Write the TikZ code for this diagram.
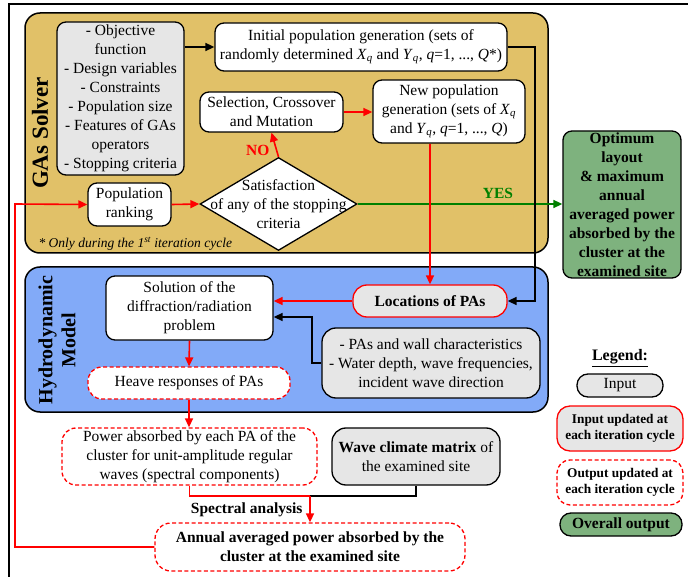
\documentclass[tikz,border=0pt]{standalone}
\usepackage{fontspec}
\setmainfont{Liberation Serif}
\usetikzlibrary{arrows.meta,shapes.geometric}
\definecolor{gold}{HTML}{E1C168}
\definecolor{hblue}{HTML}{82AAF8}
\definecolor{lgray}{HTML}{E6E6E6}
\definecolor{ogreen}{HTML}{7EB27E}
\definecolor{dgreen}{HTML}{008000}
\newcommand{\Xq}{\textit{X}\textsubscript{\textit{q}}}
\newcommand{\Yq}{\textit{Y}\textsubscript{\textit{q}}}
\tikzset{
  box/.style={draw, line width=1.3pt, rounded corners=9pt, align=center, inner sep=1pt, fill=white},
  inbox/.style={box, fill=lgray},
  redbox/.style={box, draw=red, fill=lgray},
  outbox/.style={box, draw=red, dash pattern=on 4pt off 2.5pt},
  ovbox/.style={box, fill=ogreen},
  conn/.style={line width=1.6pt, -{Triangle[length=9pt,width=8pt]}},
  rconn/.style={conn, draw=red, -{Triangle[length=9pt,width=8pt,fill=red]}},
  lbl/.style={font=\fontsize{15.5}{19}\selectfont\bfseries},
}
\begin{document}
\begin{tikzpicture}[x=1pt,y=-1pt, font=\fontsize{15.5}{19}\selectfont]
\useasboundingbox (0,0) rectangle (688,577);
% outer frame
\draw[line width=1.5pt] (688,4) -- (9,4) -- (9,577);
% panels
\draw[line width=1.5pt, fill=gold, rounded corners=15pt] (25,13) rectangle (548,253);
\draw[line width=1.5pt, fill=hblue, rounded corners=15pt] (25,267) rectangle (548,412);
\node[rotate=90, font=\fontsize{23}{26}\selectfont\bfseries] (gaslbl) at (40,133) {GAs Solver};
\node[rotate=90, align=center, font=\fontsize{20}{23}\selectfont\bfseries] (hydlbl) at (57,340) {Hydrodynamic\\Model};
\node[anchor=west, font=\fontsize{13.5}{16}\selectfont\itshape] (foot) at (35,244) {* Only during the 1\textsuperscript{st} iteration cycle};

% GA nodes
\node[inbox, minimum width=127pt, minimum height=153pt] (ginp) at (120.5,98.5)
  {- Objective\\function\\- Design variables\\- Constraints\\- Population size\\- Features of GAs\\operators\\- Stopping criteria};
\node[box, minimum width=292pt, minimum height=48pt] (init) at (361,47)
  {Initial population generation (sets of\\randomly determined \Xq{} and \Yq, \textit{q}=1, ..., \textit{Q}*)};
\node[box, minimum width=143pt, minimum height=40pt] (sel) at (271.5,112)
  {Selection, Crossover\\and Mutation};
\node[box, minimum width=152pt, minimum height=63pt] (newp) at (449,111.5)
  {New population\\generation (sets of \Xq\\and \Yq, \textit{q}=1, ..., \textit{Q})};
\node[diamond, draw, fill=white, line width=1.3pt, inner sep=0pt, minimum width=157pt, minimum height=93pt] (dia) at (278.5,204) {};
\node[align=center] (diatxt) at (dia) {Satisfaction\\of any of the stopping\\criteria};
\node[box, minimum width=83pt, minimum height=43pt] (rank) at (129.5,204.5) {Population\\ranking};
\node[ovbox, font=\fontsize{15.5}{19}\selectfont\bfseries, minimum width=118pt, minimum height=147pt] (opt) at (622,204.5)
  {Optimum\\layout\\\& maximum\\annual\\averaged power\\absorbed by the\\cluster at the\\examined site};

% Hydrodynamic nodes
\node[redbox, rounded corners=14pt, font=\fontsize{15.5}{19}\selectfont\bfseries, minimum width=154pt, minimum height=32pt] (loc) at (430,301) {Locations of PAs};
\node[box, minimum width=167pt, minimum height=64pt] (sol) at (189.5,308)
  {Solution of the\\diffraction/radiation\\problem};
\node[inbox, rounded corners=14pt, minimum width=218pt, minimum height=70pt] (pas) at (431,363)
  {- PAs and wall characteristics\\- Water depth, wave frequencies,\\incident wave direction};
\node[outbox, rounded corners=14pt, minimum width=202pt, minimum height=32pt] (heave) at (189,383) {Heave responses of PAs};

% lower nodes
\node[outbox, rounded corners=14pt, minimum width=255pt, minimum height=57pt] (power) at (189.5,456.5)
  {Power absorbed by each PA of the\\cluster for unit-amplitude regular\\waves (spectral components)};
\node[inbox, rounded corners=14pt, minimum width=168pt, minimum height=57pt] (wave) at (416,456.5)
  {\textbf{Wave climate matrix} of\\the examined site};
\node[outbox, rounded corners=16pt, font=\fontsize{15.5}{19}\selectfont\bfseries, minimum width=310pt, minimum height=48pt] (annual) at (310,547)
  {Annual averaged power absorbed by the\\cluster at the examined site};

% legend
\node[font=\fontsize{16}{19}\selectfont\bfseries] (legt) at (620,358) {\underline{Legend:}};
\node[inbox, rounded corners=11pt, minimum width=86pt, minimum height=23pt] (lin) at (620,385.5) {Input};
\node[redbox, rounded corners=13pt, font=\fontsize{13.3}{16}\selectfont\bfseries, minimum width=126pt, minimum height=45pt] (lupd) at (620,428.5) {Input updated at\\each iteration cycle};
\node[outbox, rounded corners=13pt, font=\fontsize{13.3}{16}\selectfont\bfseries, minimum width=126pt, minimum height=45pt] (lout) at (620,482.5) {Output updated at\\each iteration cycle};
\node[ovbox, rounded corners=11pt, font=\fontsize{15.5}{19}\selectfont\bfseries, minimum width=122pt, minimum height=23pt] (lover) at (621,524.5) {Overall output};

% helper coordinates
\coordinate (jr) at (535,47);
\coordinate (jp) at (312,317);
\coordinate (js) at (310,496);
\coordinate (jl) at (15,204);

% connectors
\draw[conn] (ginp.east |- init.west) -- (init.west);
\draw[rconn] (sel.east) -- (sel.east -| newp.west);
\draw[rconn] (dia.north) -- (sel.south);
\node[lbl, text=red, anchor=east] (nolbl) at (273,150) {NO};
\draw[rconn] (rank.east) -- (dia.west);
\draw[conn, draw=dgreen, -{Triangle[length=9pt,width=8pt,fill=dgreen]}] (dia.east) -- (dia.east -| opt.west);
\node[lbl, text=dgreen] (yeslbl) at (498,193) {YES};
\draw[conn] (init.east) -- (jr) |- (loc.east);
\draw[rconn] (loc.north |- newp.south) -- (loc.north);
\draw[rconn] (loc.west) -- (loc.west -| sol.east);
\draw[conn] (pas.west) -| (jp) -- (jp -| sol.east);
\draw[rconn] (sol.south) -- (heave.north);
\draw[rconn] (heave.south) -- (heave.south |- power.north);
\draw[line width=1.6pt] (wave.south) |- (js);
\draw[line width=1.6pt, red] (power.south) |- (js);
\draw[rconn] (js) -- (annual.north);
\node[lbl, anchor=east] (speclbl) at (306,510) {Spectral analysis};
\draw[rconn] (annual.west) -| (jl) -- (rank.west);
\end{tikzpicture}
\end{document}
